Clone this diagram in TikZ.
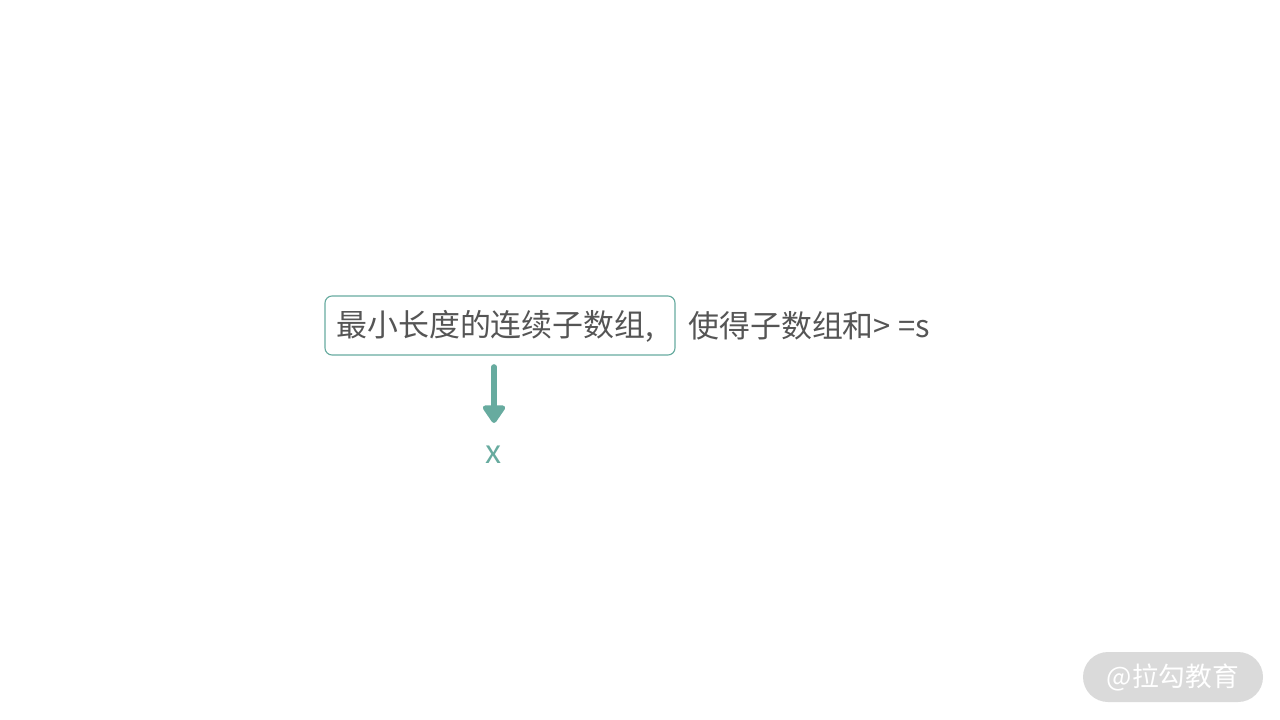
\documentclass[tikz,border=0pt]{standalone}
\usepackage{fontspec}
\newfontfamily\cjk{Noto Sans CJK SC}
\definecolor{txtgray}{HTML}{555555}
\definecolor{teal}{HTML}{67AB9F}
\definecolor{pill}{HTML}{DADADA}
\usetikzlibrary{positioning,arrows.meta}
\tikzset{
	word/.style={text=txtgray, font=\cjk\fontsize{22}{26}\selectfont, inner sep=0pt},
	markbox/.style={draw=teal, rounded corners=5pt, line width=0.8pt},
	pointer/.style={draw=teal, line width=4pt, line cap=round, -{Triangle[length=14pt,width=18pt,round]}}
}
\begin{document}
\begin{tikzpicture}[x=0.025cm, y=-0.025cm]
	\useasboundingbox (0,0) rectangle (1280,720);
	% box and its text
	\node[markbox, minimum width=350*0.025cm, minimum height=59*0.025cm] (box) at (500,325.5) {};
	\node[word, anchor=west] (lhs) at (336,326) {最小长度的连续子数组,};
	\node[word, anchor=west] (rhs) at (688,326) {使得子数组和> =s};
	% the pointer down to x
	\coordinate (tip) at (494,423);
	\node[text=teal, font=\cjk\fontsize{23}{26}\selectfont, inner sep=0pt] (x) at (494,455) {x};
	\draw[pointer] (494,367) -- (tip);
	% watermark
	\node[fill=pill, rounded corners=25*0.025cm, minimum width=180*0.025cm, minimum height=50*0.025cm, text=white, font=\cjk\fontsize{19}{22}\selectfont] (mark) at (1173,677) {@拉勾教育};
\end{tikzpicture}
\end{document}
